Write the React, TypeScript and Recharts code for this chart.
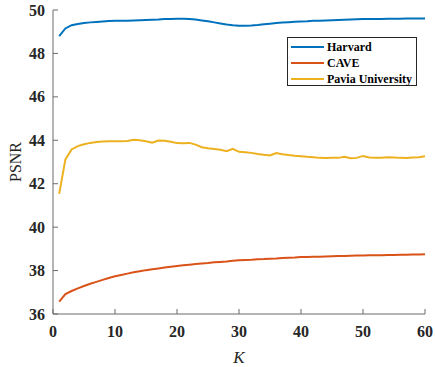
import { Line, LineChart, XAxis, YAxis } from "recharts";

const kValues = [
  1, 2, 3, 4, 5, 6, 7, 8, 9, 10, 11, 12, 13, 14, 15, 16, 17, 18, 19, 20,
  21, 22, 23, 24, 25, 26, 27, 28, 29, 30, 31, 32, 33, 34, 35, 36, 37, 38, 39, 40,
  41, 42, 43, 44, 45, 46, 47, 48, 49, 50, 51, 52, 53, 54, 55, 56, 57, 58, 59, 60,
];

const harvard = [
  48.8, 49.15, 49.3, 49.36, 49.4, 49.43, 49.45, 49.47, 49.49, 49.5,
  49.5, 49.51, 49.52, 49.53, 49.54, 49.55, 49.56, 49.58, 49.59, 49.6,
  49.6, 49.59, 49.56, 49.52, 49.48, 49.43, 49.38, 49.33, 49.3, 49.28,
  49.28, 49.29, 49.31, 49.34, 49.37, 49.4, 49.42, 49.44, 49.46, 49.47,
  49.48, 49.5, 49.51, 49.52, 49.53, 49.54, 49.55, 49.56, 49.57, 49.58,
  49.58, 49.59, 49.59, 49.6, 49.6, 49.6, 49.61, 49.61, 49.61, 49.61,
];

const cave = [
  36.57, 36.92, 37.06, 37.18, 37.29, 37.39, 37.48, 37.57, 37.66, 37.74,
  37.8, 37.86, 37.92, 37.97, 38.02, 38.06, 38.1, 38.14, 38.18, 38.21,
  38.24, 38.27, 38.3, 38.33, 38.35, 38.38, 38.4, 38.42, 38.45, 38.47,
  38.49, 38.5, 38.52, 38.53, 38.55, 38.56, 38.58, 38.59, 38.6, 38.62,
  38.63, 38.64, 38.64, 38.65, 38.66, 38.67, 38.67, 38.68, 38.69, 38.69,
  38.7, 38.71, 38.71, 38.72, 38.72, 38.73, 38.73, 38.74, 38.74, 38.75,
];

const pavia = [
  41.53, 43.12, 43.58, 43.73, 43.82, 43.88, 43.92, 43.94, 43.95, 43.96,
  43.96, 43.97, 44.02, 44.0, 43.96, 43.89, 43.99, 43.98, 43.93, 43.87,
  43.86, 43.88, 43.8, 43.68, 43.63, 43.6, 43.56, 43.5, 43.61, 43.47,
  43.45, 43.42, 43.37, 43.33, 43.3, 43.41, 43.36, 43.32, 43.29, 43.27,
  43.24, 43.22, 43.19, 43.18, 43.19, 43.19, 43.24, 43.17, 43.19, 43.28,
  43.21, 43.2, 43.2, 43.22, 43.21, 43.19, 43.18, 43.21, 43.22, 43.26,
];

const xTicks = [0, 10, 20, 30, 40, 50, 60];
const yTicks = [36, 38, 40, 42, 44, 46, 48, 50];

const series = [
  { key: "harvard", name: "Harvard", color: "#0072BD" },
  { key: "cave", name: "CAVE", color: "#D95319" },
  { key: "pavia", name: "Pavia University", color: "#EDB120" },
];

const data = kValues.map((k, i) => ({
  k,
  harvard: harvard[i],
  cave: cave[i],
  pavia: pavia[i],
}));

const FONT = "'Liberation Serif', 'Times New Roman', serif";
const AXIS = "#6b6b6b";
const TEXT = "#262626";
const TICK_LEN = 5;

function BottomTick({ x, y, payload }: any) {
  return (
    <g>
      <line x1={x} x2={x} y1={y - 12} y2={y - 12 - TICK_LEN} stroke={AXIS} />
      <text x={x} y={y} dy="0.71em" textAnchor="middle" fontFamily={FONT} fontWeight="bold" fontSize={16} fill={TEXT}>
        {payload.value}
      </text>
    </g>
  );
}

function LeftTick({ x, y, payload }: any) {
  return (
    <g>
      <line x1={x + 8} x2={x + 8 + TICK_LEN} y1={y} y2={y} stroke={AXIS} />
      <text x={x} y={y} dy="0.35em" textAnchor="end" fontFamily={FONT} fontWeight="bold" fontSize={16} fill={TEXT}>
        {payload.value}
      </text>
    </g>
  );
}

function TopTick({ x, y }: any) {
  return <line x1={x} x2={x} y1={y} y2={y + TICK_LEN} stroke={AXIS} />;
}

function RightTick({ x, y }: any) {
  return <line x1={x} x2={x - TICK_LEN} y1={y} y2={y} stroke={AXIS} />;
}

export default function App() {
  return (
    <div style={{ position: "relative", width: 435, height: 367, background: "#fff" }}>
      <style>{`body{margin:0}`}</style>
      <LineChart width={435} height={367} data={data} margin={{ top: 10, right: 10, left: 0, bottom: 0 }}>
        <XAxis
          dataKey="k"
          type="number"
          domain={[0, 60]}
          ticks={xTicks}
          height={53}
          stroke={AXIS}
          tickLine={false}
          tickSize={0}
          tickMargin={12}
          tick={<BottomTick />}
          label={{ value: "K", position: "insideBottom", offset: 4, fontFamily: FONT, fontStyle: "italic", fontSize: 17, fill: TEXT }}
        />
        <XAxis
          xAxisId="top"
          dataKey="k"
          type="number"
          orientation="top"
          domain={[0, 60]}
          ticks={xTicks}
          height={0}
          stroke={AXIS}
          tickLine={false}
          tickSize={0}
          tickMargin={0}
          tick={<TopTick />}
        />
        <YAxis
          type="number"
          domain={[36, 50]}
          ticks={yTicks}
          width={53}
          stroke={AXIS}
          tickLine={false}
          tickSize={0}
          tickMargin={8}
          tick={<LeftTick />}
          label={{
            value: "PSNR",
            angle: -90,
            position: "insideLeft",
            offset: 15,
            style: { textAnchor: "middle" },
            fontFamily: FONT,
            fontSize: 16,
            fill: TEXT,
          }}
        />
        <YAxis
          yAxisId="right"
          type="number"
          orientation="right"
          domain={[36, 50]}
          ticks={yTicks}
          width={0}
          stroke={AXIS}
          tickLine={false}
          tickSize={0}
          tickMargin={0}
          tick={<RightTick />}
        />
        {series.map((s) => (
          <Line
            key={s.key}
            type="linear"
            dataKey={s.key}
            name={s.name}
            stroke={s.color}
            strokeWidth={2}
            dot={false}
            isAnimationActive={false}
          />
        ))}
      </LineChart>
      <div
        style={{
          position: "absolute",
          left: 287,
          top: 37,
          width: 130,
          height: 49,
          border: "1px solid #262626",
          background: "#fff",
          fontFamily: FONT,
          fontWeight: "bold",
          fontSize: 12,
          color: "#000",
          boxSizing: "border-box",
          paddingTop: 1,
        }}
      >
        {series.map((s) => (
          <div key={s.key} style={{ display: "flex", alignItems: "center", height: 16, lineHeight: "16px" }}>
            <span style={{ display: "inline-block", width: 33, height: 2, background: s.color, marginLeft: 3, marginRight: 3 }} />
            <span>{s.name}</span>
          </div>
        ))}
      </div>
    </div>
  );
}
